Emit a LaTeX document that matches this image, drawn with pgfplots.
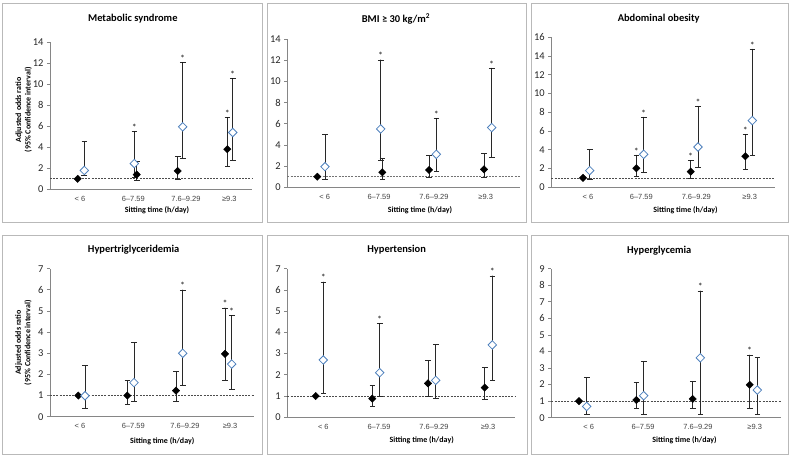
\documentclass[border=0pt]{standalone}
\usepackage{fontspec}
\setmainfont{Carlito}
\newfontfamily\tickfont{Liberation Sans}
\usepackage{pgfplots}
\pgfplotsset{compat=1.18}
\definecolor{axisgray}{RGB}{134,134,134}
\definecolor{framegray}{RGB}{185,185,185}
\definecolor{dblue}{RGB}{79,129,189}
\definecolor{bargray}{RGB}{40,40,40}
\definecolor{stargray}{RGB}{60,60,60}

\pgfplotsset{
  panel/.style n args={4}{
    scale only axis,
    axis x line*=bottom, axis y line*=left,
    axis line style={axisgray, line width=0.75bp},
    ymin=0,
    xtick style={draw=none},
    ytick style={axisgray, line width=0.75bp},
    tick align=outside, major tick length=3bp,
    /pgf/number format/assume math mode=true,
    yticklabel style={font=\fontsize{10.5}{11}\selectfont, text=black!85},
    xticklabel style={font=\tickfont\fontsize{7.5}{8}\selectfont, text=black!75, anchor=center, yshift=-6.5bp},
    xticklabels={{< 6},{6–7.59},{7.6–9.29},{≥9.3}},
    every axis title/.style={at={(axis description cs:#1,1)}, anchor=center, yshift=#2, font=\bfseries\fontsize{10.5}{12}\selectfont},
    xlabel={Sitting time (h/day)},
    every axis x label/.style={at={(axis description cs:#3,0)}, anchor=center, yshift=-#4, font=\bfseries\fontsize{8}{9}\selectfont},
    clip=false,
  },
  ylab/.style={
    ylabel={Adjusted odds ratio\\(95\% Confidence interval)},
    every axis y label/.style={at={(axis description cs:-0.13,#1)}, rotate=90, anchor=center, align=center, font=\bfseries\fontsize{8}{9.5}\selectfont},
  },
  refline/.style={black!70, dash pattern=on 2bp off 1.2bp, line width=0.6bp},
  oddb/.style={only marks, mark=square*, mark size=2.6bp,
     mark options={rotate=45, fill=black, draw=black},
     error bars/.cd, y dir=both, y explicit,
     error bar style={bargray, line width=0.8bp},
     error mark options={rotate=90, bargray, line width=0.8bp, mark size=2.8bp}},
  oddw/.style={only marks, mark=square*, mark size=3bp,
     mark options={rotate=45, fill=white, draw=dblue, line width=0.8bp},
     error bars/.cd, y dir=both, y explicit,
     error bar style={bargray, line width=0.8bp},
     error mark options={rotate=90, bargray, line width=0.8bp, mark size=2.8bp}},
  stars/.style={only marks, mark=*, mark size=0.1bp, mark options={draw=none, fill=none},
     nodes near coords={*}, nodes near coords align={above},
     every node near coord/.append style={font=\bfseries\fontsize{9}{9}\selectfont, text=stargray, inner sep=0pt, yshift=1bp}},
  table/ci/.style={x=x, y=y, y error plus expr=\thisrow{hi}-\thisrow{y}, y error minus expr=\thisrow{y}-\thisrow{lo}},
}

\begin{document}
\begin{tikzpicture}
\path (0bp,0bp) rectangle (792bp,460bp);
% panel frames
\draw[framegray, line width=0.75bp] (2bp,457bp) rectangle (262bp,238bp);
\draw[framegray, line width=0.75bp] (267bp,457bp) rectangle (526bp,238bp);
\draw[framegray, line width=0.75bp] (531bp,457bp) rectangle (788bp,238bp);
\draw[framegray, line width=0.75bp] (2bp,225bp) rectangle (262bp,6bp);
\draw[framegray, line width=0.75bp] (267bp,225bp) rectangle (527bp,6bp);
\draw[framegray, line width=0.75bp] (531bp,225bp) rectangle (788bp,6bp);

% ---------- Metabolic syndrome ----------
\begin{axis}[panel={0.41}{24bp}{0.53}{20.7bp}, ylab={0.54},
  at={(50bp,270.7bp)}, anchor=south west, width=202bp, height=147bp,
  xmin=50, xmax=252, ymax=14, ytick={0,2,...,14},
  xtick={80,133.3,186,229.3}, title={Metabolic syndrome}]
\addplot[refline] coordinates {(50,1) (252,1)};
\addplot[oddb] table[ci] {
x y lo hi
77.7 1.00 1.00 1.00
136.7 1.40 0.80 2.61
177.7 1.75 0.95 3.15
227.3 3.82 2.20 6.81
};
\addplot[oddw] table[ci] {
x y lo hi
84.3 1.80 1.30 4.52
134.3 2.45 1.10 5.47
182.7 5.95 2.95 12.06
232.7 5.41 2.75 10.56
};
\addplot[stars] coordinates {(134.3,5.47) (182.7,12.06) (227.3,6.81) (232.7,10.56)};
\end{axis}

% ---------- BMI ----------
\begin{axis}[panel={0.467}{20bp}{0.57}{22.7bp},
  at={(287.3bp,272.7bp)}, anchor=south west, width=232.7bp, height=148bp,
  xmin=287.3, xmax=520, ymax=14, ytick={0,2,...,14},
  xtick={324.7,379,434,485.7}, title={BMI ≥ 30 kg/m\textsuperscript{2}}]
\addplot[refline, black!55] coordinates {(287.3,1.05) (520,1.05)};
\addplot[oddb] table[ci] {
x y lo hi
317.3 1.00 1.00 1.00
382.3 1.42 0.75 2.74
429.0 1.64 0.90 3.06
484.0 1.70 0.95 3.22
};
\addplot[oddw] table[ci] {
x y lo hi
325.0 1.95 0.75 5.05
380.7 5.52 2.52 12.05
436.3 3.12 1.50 6.50
491.7 5.65 2.84 11.26
};
\addplot[stars] coordinates {(380.7,12.05) (436.3,6.50) (491.7,11.26)};
\end{axis}

% ---------- Abdominal obesity ----------
\begin{axis}[panel={0.48}{19bp}{0.60}{23.4bp},
  at={(551.3bp,272.7bp)}, anchor=south west, width=223.7bp, height=150bp,
  xmin=551.3, xmax=775, ymax=16, ytick={0,2,...,16},
  xtick={588,641.3,696.3,749.7}, title={Abdominal obesity}]
\addplot[refline] coordinates {(551.3,1) (775,1)};
\addplot[oddb] table[ci] {
x y lo hi
583.0 1.00 1.00 1.00
636.3 2.03 1.21 3.42
690.7 1.67 1.00 2.85
745.3 3.31 1.96 5.62
};
\addplot[oddw] table[ci] {
x y lo hi
589.7 1.78 0.85 4.06
643.7 3.52 1.64 7.47
698.0 4.30 2.10 8.65
752.3 7.12 3.45 14.73
};
\addplot[stars] coordinates {(636.3,3.42) (690.7,2.85) (745.3,5.62) (643.7,7.47) (698.0,8.65) (752.3,14.73)};
\end{axis}

% ---------- Hypertriglyceridemia ----------
\begin{axis}[panel={0.41}{18.7bp}{0.55}{25bp}, ylab={0.5},
  at={(50bp,43.3bp)}, anchor=south west, width=204bp, height=148bp,
  xmin=50, xmax=254, ymax=7, ytick={0,1,...,7},
  xtick={80,133.3,185,230}, title={Hypertriglyceridemia}]
\addplot[refline] coordinates {(50,1) (254,1)};
\addplot[oddb] table[ci] {
x y lo hi
78.3 1.00 1.00 1.00
127.3 1.00 0.58 1.73
176.0 1.23 0.71 2.15
225.0 2.97 1.72 5.14
};
\addplot[oddw] table[ci] {
x y lo hi
85.0 0.99 0.39 2.44
134.0 1.61 0.73 3.52
182.7 3.00 1.48 5.99
231.7 2.49 1.29 4.78
};
\addplot[stars] coordinates {(182.7,5.99) (225.0,5.14) (231.7,4.78)};
\end{axis}

% ---------- Hypertension ----------
\begin{axis}[panel={0.48}{18.7bp}{0.59}{23.4bp},
  at={(287.3bp,42.7bp)}, anchor=south west, width=227.7bp, height=148.6bp,
  xmin=287.3, xmax=515, ymax=7, ytick={0,1,...,7},
  xtick={323.3,379,434,488}, title={Hypertension}]
\addplot[refline] coordinates {(287.3,1) (515,1)};
\addplot[oddb] table[ci] {
x y lo hi
315.7 1.00 1.00 1.00
372.3 0.88 0.53 1.51
428.0 1.60 0.97 2.70
484.7 1.40 0.82 2.35
};
\addplot[oddw] table[ci] {
x y lo hi
323.3 2.70 1.13 6.37
379.7 2.10 1.00 4.41
435.7 1.74 0.90 3.42
492.3 3.41 1.76 6.66
};
\addplot[stars] coordinates {(323.3,6.37) (379.7,4.41) (492.3,6.66)};
\end{axis}

% ---------- Hyperglycemia ----------
\begin{axis}[panel={0.47}{18bp}{0.58}{23bp},
  at={(551.3bp,42.3bp)}, anchor=south west, width=229.7bp, height=149bp,
  xmin=551.3, xmax=781, ymax=9, ytick={0,1,...,9},
  xtick={588.7,643,698,754.7}, title={Hyperglycemia}]
\addplot[refline] coordinates {(551.3,1) (781,1)};
\addplot[oddb] table[ci] {
x y lo hi
579.0 1.00 1.00 1.00
636.3 1.07 0.56 2.13
692.7 1.13 0.55 2.19
749.7 1.99 0.55 3.78
};
\addplot[oddw] table[ci] {
x y lo hi
586.7 0.68 0.20 2.45
643.7 1.33 0.20 3.42
700.3 3.62 0.20 7.65
757.3 1.67 0.20 3.66
};
\addplot[stars] coordinates {(700.3,7.65) (749.7,3.78)};
\end{axis}
\end{tikzpicture}
\end{document}
